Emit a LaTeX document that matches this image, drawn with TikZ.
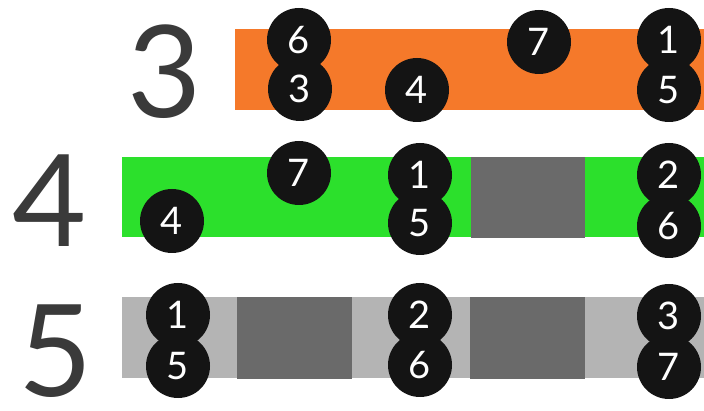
\documentclass[tikz,border=0pt]{standalone}
\usepackage{fontspec}
\setmainfont{Lato}
\definecolor{barorange}{RGB}{245,121,42}
\definecolor{bargreen}{RGB}{44,224,44}
\definecolor{barlight}{RGB}{180,180,180}
\definecolor{bardark}{RGB}{106,106,106}
\definecolor{labelgray}{RGB}{58,58,58}
\tikzset{
  pin/.style={circle, fill=black!92, text=white, minimum size=64pt, inner sep=0pt,
    font=\fontsize{38}{38}\selectfont},
  rowlabel/.style={text=labelgray, inner sep=0pt, font=\fontsize{128}{128}\selectfont}
}
\begin{document}
\begin{tikzpicture}[x=1pt, y=-1pt]
  \useasboundingbox (0,0) rectangle (704,411);

  % bars
  \fill[barorange] (235,29) rectangle (704,110);
  \fill[bargreen]  (122,157) rectangle (704,237);
  \fill[bardark]   (471,157) rectangle (585,238);
  \fill[barlight]  (122,297) rectangle (704,378);
  \fill[bardark]   (237,297) rectangle (352,379);
  \fill[bardark]   (470,297) rectangle (585,379);

  \node[rowlabel] (L3) at (165,72)  {3};
  \node[rowlabel] (L4) at (50,201)  {4};
  \node[rowlabel] (L5) at (56,351)  {5};

  % row 3
  \node[pin] (a6) at (299,40) {6};
  \node[pin] (a3) at (300,89) {3};
  \node[pin] (a4) at (417,90) {4};
  \node[pin] (a7) at (539,42) {7};
  \node[pin] (a1) at (669,40) {1};
  \node[pin] (a5) at (669,90) {5};

  % row 4
  \node[pin] (b4) at (172,221) {4};
  \node[pin] (b7) at (299,173) {7};
  \node[pin] (b1) at (420,175) {1};
  \node[pin] (b5) at (420,223) {5};
  \node[pin] (b2) at (669,175) {2};
  \node[pin] (b6) at (669,226) {6};

  % row 5
  \node[pin] (c1) at (178,315) {1};
  \node[pin] (c5) at (178,366) {5};
  \node[pin] (c2) at (420,315) {2};
  \node[pin] (c6) at (420,365) {6};
  \node[pin] (c3) at (669,316) {3};
  \node[pin] (c7) at (669,367) {7};
\end{tikzpicture}
\end{document}
